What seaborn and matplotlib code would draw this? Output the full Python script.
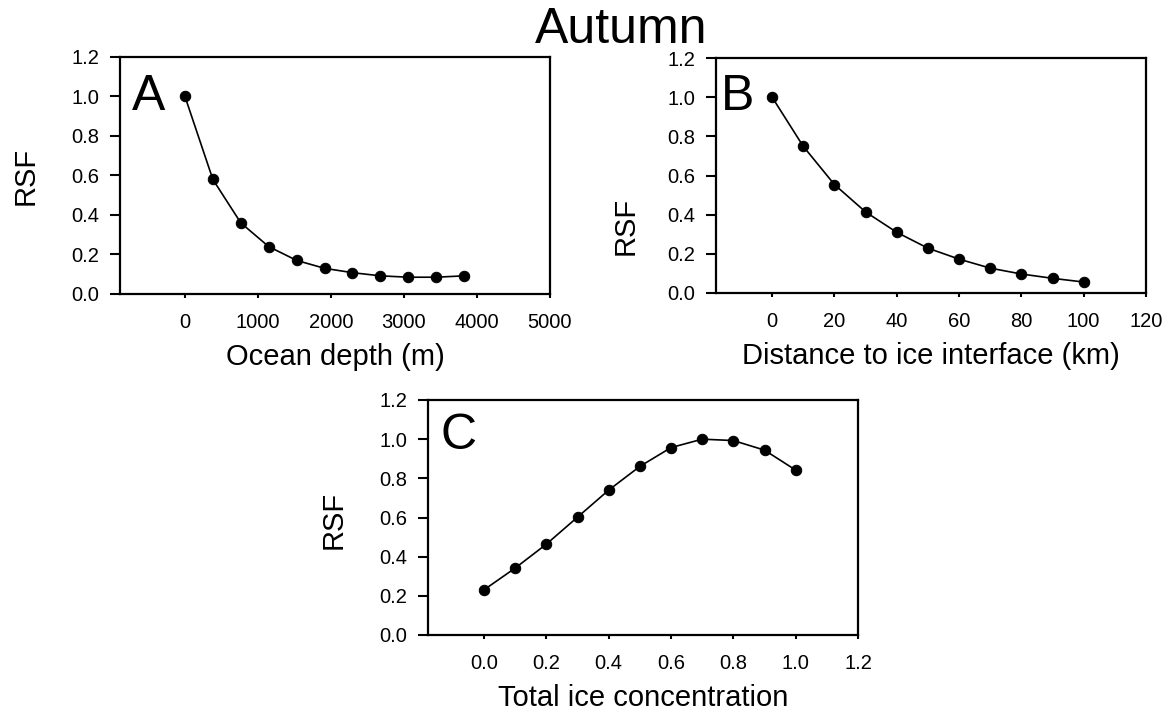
import matplotlib
matplotlib.use("Agg")
import matplotlib.pyplot as plt
import seaborn as sns
import numpy as np
import pandas as pd

# ---- data ----
depth = [0, 382, 765, 1147, 1530, 1912, 2294, 2677, 3059, 3442, 3824]
rsf_depth = [1.0, 0.58, 0.36, 0.24, 0.17, 0.13, 0.108, 0.092, 0.085, 0.085, 0.092]

dist = [0, 10, 20, 30, 40, 50, 60, 70, 80, 90, 100]
rsf_dist = [1.0, 0.749, 0.554, 0.414, 0.31, 0.229, 0.173, 0.127, 0.097, 0.075, 0.056]

ice = [0.0, 0.1, 0.2, 0.3, 0.4, 0.5, 0.6, 0.7, 0.8, 0.9, 1.0]
rsf_ice = [0.231, 0.342, 0.464, 0.602, 0.740, 0.861, 0.957, 1.0, 0.993, 0.944, 0.842]

yticks = [0.0, 0.2, 0.4, 0.6, 0.8, 1.0, 1.2]
xticks_a = [0, 1000, 2000, 3000, 4000, 5000]
xticks_b = [0, 20, 40, 60, 80, 100, 120]
xticks_c = [0.0, 0.2, 0.4, 0.6, 0.8, 1.0, 1.2]

sns.set_theme(style="ticks")
plt.rcParams['font.family'] = ['Liberation Sans', 'DejaVu Sans']

W, H = 1167, 713
fig = plt.figure(figsize=(W / 100, H / 100), dpi=100)

def make_ax(left, top, right, bottom):
    return fig.add_axes([left / W, 1 - bottom / H, (right - left) / W, (bottom - top) / H])

axA = make_ax(120, 57, 550, 294)
axB = make_ax(716, 58, 1146, 293)
axC = make_ax(428, 400, 858, 635)

panels = [
    (axA, depth, rsf_depth, (-890, 5000), xticks_a, "Ocean depth (m)", "A", 0.028, 0.776, (-0.186, 0.5)),
    (axB, dist, rsf_dist, (-18, 120), xticks_b, "Distance to ice interface (km)", "B", 0.012, 0.779, (-0.177, 0.285)),
    (axC, ice, rsf_ice, (-0.18, 1.2), xticks_c, "Total ice concentration", "C", 0.028, 0.79, (-0.188, 0.49)),
]

for ax, xs, ys, xlim, xt, xlabel, letter, lx, ly, ylc in panels:
    df = pd.DataFrame({"x": xs, "y": ys})
    sns.lineplot(data=df, x="x", y="y", ax=ax, color="black", linewidth=1.2,
                 marker="o", markersize=7.5, markeredgecolor="black",
                 markerfacecolor="black")
    ax.set_xlim(*xlim)
    ax.set_ylim(0, 1.2)
    ax.set_xticks(xt)
    ax.set_yticks(yticks)
    if isinstance(xt[0], float):
        ax.set_xticklabels([f"{v:.1f}" for v in xt])
    ax.set_yticklabels([f"{v:.1f}" for v in yticks])
    for s in ax.spines.values():
        s.set_visible(True)
        s.set_linewidth(1.6)
        s.set_color("black")
    ax.tick_params(axis="y", direction="out", length=7, width=1.5, pad=8,
                   labelsize=14.5, colors="black")
    ax.tick_params(axis="x", direction="out", length=3, width=1.5, pad=10.5,
                   labelsize=14.5, colors="black")
    ax.set_xlabel(xlabel, fontsize=21, labelpad=8, color="black")
    ax.set_ylabel("RSF", fontsize=21, color="black")
    ax.yaxis.set_label_coords(*ylc)
    ax.text(lx, ly, letter, transform=ax.transAxes, fontsize=36,
            ha="left", va="baseline", color="black")
    ax.set_facecolor("white")
    ax.grid(False)

fig.text(621 / W, 1 - 43 / H, "Autumn", ha="center", va="baseline", fontsize=36, color="black")

fig.savefig("out.png", dpi=100, facecolor="white")
